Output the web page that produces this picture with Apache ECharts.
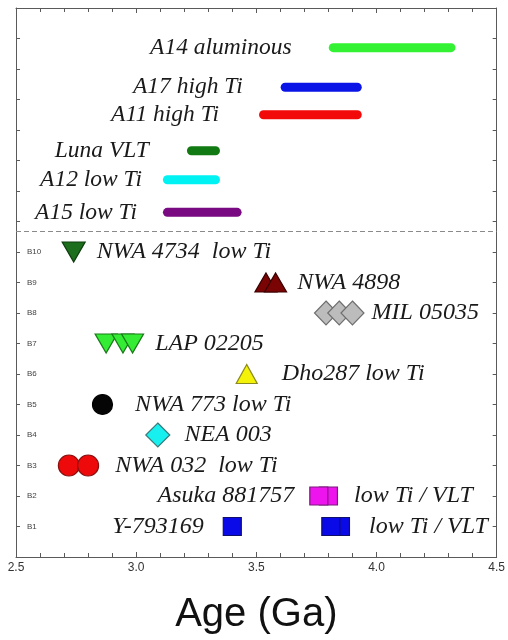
<!DOCTYPE html>
<html>
<head>
<meta charset="utf-8">
<script src="https://cdn.jsdelivr.net/npm/echarts@6/dist/echarts.min.js"></script>
<style>
  html, body { margin: 0; padding: 0; background: #fff; }
  #chart { width: 508px; height: 640px; }
</style>
</head>
<body>
<div id="chart"></div>
<script>
// Age ranges of returned Apollo / Luna basalt suites (Ga)
const rangeNames = ['A15 low Ti', 'A12 low Ti', 'Luna VLT', 'A11 high Ti', 'A17 high Ti', 'A14 aluminous'];
const rangeRows = [11.3, 12.37, 13.32, 14.5, 15.4, 16.7];
const rangeStart = [3.13, 3.13, 3.23, 3.53, 3.62, 3.82];
const rangeEnd = [3.42, 3.33, 3.33, 3.92, 3.92, 4.31];

// Lunar basaltic meteorites: row (B1..B10) and ages (Ga)
const rowLabels = ['B1', 'B2', 'B3', 'B4', 'B5', 'B6', 'B7', 'B8', 'B9', 'B10'];
const sampleRows = [1, 1, 2, 3, 4, 5, 6, 7, 8, 9, 10];
const sampleAges = [
  [3.40],
  [3.85, 3.81],
  [3.80, 3.76],
  [2.72, 2.80],
  [3.09],
  [2.86],
  [3.46],
  [2.875, 2.945, 2.985],
  [3.79, 3.845, 3.90],
  [3.54, 3.58],
  [2.74]
];
const sampleLeftText = ['Y-793169', '', 'Asuka 881757', '', '', '', '', '', '', '', ''];
const sampleRightText = ['', 'low Ti / VLT', 'low Ti / VLT', 'NWA 032  low Ti', 'NEA 003', 'NWA 773 low Ti',
  'Dho287 low Ti', 'LAP 02205', 'MIL 05035', 'NWA 4898', 'NWA 4734  low Ti'];

const boundaryRow = 10.67;
const xTicks = [2.5, 3.0, 3.5, 4.0, 4.5];

// ---- styling ----
const rangeColors = ['#7a0a82', '#00f2f2', '#127a12', '#f20a0a', '#0a14e6', '#33f233'];
const rangeLabelGap = [26, 21, 38, 40, 38, 37];

const sampleSymbol = ['rect', 'rect', 'rect', 'circle', 'diamond', 'circle', 'triangle', 'triangle', 'diamond', 'triangle', 'triangle'];
const sampleRotate = [0, 0, 0, 0, 0, 0, 0, 180, 0, 0, 180];
const sampleSize = [[18, 18], [18, 18], [18, 18], [21, 21], [24, 24], [20, 20], [21, 19], [22, 19], [23, 24], [22, 19], [23, 20]];
const sampleFill = ['#0a0ae8', '#0a0ae8', '#ee14ee', '#ee0a0a', '#18f0f0', '#050505', '#f5f20a', '#33ec33', '#bcbcbc', '#7a0404', '#1d6e1d'];
const sampleStroke = ['#10106a', '#10106a', '#7a1a7a', '#8a1010', '#3a7a7a', '#000000', '#8a8a20', '#1a7a1a', '#6e6e6e', '#3a0000', '#0e3e0e'];
const sampleLeftGap = [19, 0, 15, 0, 0, 0, 0, 0, 0, 0, 0];
const sampleRightGap = [0, 19, 16, 16, 14, 22, 24, 11, 7, 10, 11];

const labelFont = { fontFamily: 'Liberation Serif', fontStyle: 'italic', fontSize: 24, color: '#1a1a1a' };
const frameColor = '#5a5a5a';

const chart = echarts.init(document.getElementById('chart'), null, { renderer: 'canvas' });

const rangeData = rangeNames.map((n, i) => [rangeStart[i], rangeEnd[i], rangeRows[i], i]);

const series = [];

series.push({
  type: 'custom',
  coordinateSystem: 'cartesian2d',
  encode: { x: [0, 1], y: 2 },
  data: rangeData,
  renderItem: function (params, api) {
    const i = api.value(3);
    const s = api.coord([api.value(0), api.value(2)]);
    const e = api.coord([api.value(1), api.value(2)]);
    const lw = 9;
    return {
      type: 'group',
      children: [
        {
          type: 'line',
          shape: { x1: s[0], y1: s[1], x2: e[0], y2: e[1] },
          style: { stroke: rangeColors[i], lineWidth: lw, lineCap: 'round' }
        },
        {
          type: 'text',
          x: s[0] - lw / 2 - rangeLabelGap[i],
          y: s[1],
          style: {
            text: rangeNames[i],
            align: 'right',
            verticalAlign: 'middle',
            font: 'italic 23.5px "Liberation Serif"',
            fill: '#1a1a1a'
          }
        }
      ]
    };
  },
  markLine: {
    silent: true,
    symbol: 'none',
    label: { show: false },
    lineStyle: { color: '#8a8a8a', width: 1, type: [5, 3] },
    data: [{ yAxis: boundaryRow }]
  }
});

sampleAges.forEach((ages, k) => {
  const minAge = Math.min.apply(null, ages);
  const maxAge = Math.max.apply(null, ages);
  const data = ages.map(a => {
    const item = { value: [a, sampleRows[k]] };
    if (a === maxAge && sampleRightText[k]) {
      item.label = Object.assign({ show: true, position: 'right', distance: sampleRightGap[k], formatter: sampleRightText[k] }, labelFont);
    } else if (a === minAge && sampleLeftText[k]) {
      item.label = Object.assign({ show: true, position: 'left', distance: sampleLeftGap[k], formatter: sampleLeftText[k] }, labelFont);
    }
    return item;
  });
  // a group with text on both sides
  if (sampleLeftText[k] && sampleRightText[k]) {
    data.forEach(d => {
      if (d.value[0] === minAge) {
        d.label = Object.assign({ show: true, position: 'left', distance: sampleLeftGap[k], formatter: sampleLeftText[k] }, labelFont);
      }
    });
  }
  series.push({
    type: 'scatter',
    symbol: sampleSymbol[k],
    symbolRotate: sampleRotate[k],
    symbolSize: sampleSize[k],
    itemStyle: { color: sampleFill[k], borderColor: sampleStroke[k], borderWidth: 1.2, opacity: 1 },
    label: { show: false },
    labelLayout: { hideOverlap: false },
    emphasis: { disabled: true },
    data: data,
    z: 3
  });
});

const option = {
  animation: false,
  backgroundColor: '#ffffff',
  grid: { left: 16, right: 9, top: 8, bottom: 82, containLabel: false },
  xAxis: [
    {
      type: 'value',
      position: 'bottom',
      min: 2.5, max: 4.5, interval: 0.5,
      axisLine: { show: true, onZero: false, lineStyle: { color: frameColor, width: 1 } },
      axisTick: { show: true, inside: true, length: 5, lineStyle: { color: frameColor } },
      minorTick: { show: true, splitNumber: 5, length: 4, lineStyle: { color: frameColor } },
      splitLine: { show: false },
      axisLabel: {
        show: true, margin: 5, fontFamily: 'Liberation Sans', fontSize: 12, color: '#333',
        formatter: v => (xTicks.some(t => Math.abs(t - v) < 1e-6) ? v.toFixed(1) : ''),
        showMinLabel: true, showMaxLabel: true, hideOverlap: false
      },
      name: 'Age (Ga)',
      nameLocation: 'middle',
      nameGap: 38,
      nameTextStyle: { fontFamily: 'Liberation Sans', fontSize: 40, color: '#111' }
    },
    {
      type: 'value',
      position: 'top',
      min: 2.5, max: 4.5, interval: 0.5,
      axisLine: { show: true, onZero: false, lineStyle: { color: frameColor, width: 1 } },
      axisTick: { show: true, inside: true, length: 5, lineStyle: { color: frameColor } },
      minorTick: { show: true, splitNumber: 5, length: 4, lineStyle: { color: frameColor } },
      splitLine: { show: false },
      axisLabel: { show: false }
    }
  ],
  yAxis: [
    {
      type: 'value',
      position: 'left',
      min: 0, max: 18, interval: 1,
      axisLine: { show: true, onZero: false, lineStyle: { color: frameColor, width: 1 } },
      axisTick: { show: true, inside: true, length: 4, lineStyle: { color: frameColor } },
      splitLine: { show: false },
      axisLabel: {
        show: true, inside: true, margin: 11,
        fontFamily: 'Liberation Sans', fontSize: 8, color: '#444',
        formatter: v => (v >= 1 && v <= rowLabels.length ? rowLabels[v - 1] : ''),
        hideOverlap: false
      }
    },
    {
      type: 'value',
      position: 'right',
      min: 0, max: 18, interval: 1,
      axisLine: { show: true, onZero: false, lineStyle: { color: frameColor, width: 1 } },
      axisTick: { show: true, inside: true, length: 4, lineStyle: { color: frameColor } },
      splitLine: { show: false },
      axisLabel: { show: false }
    }
  ],
  series: series
};

chart.setOption(option);
</script>
</body>
</html>
